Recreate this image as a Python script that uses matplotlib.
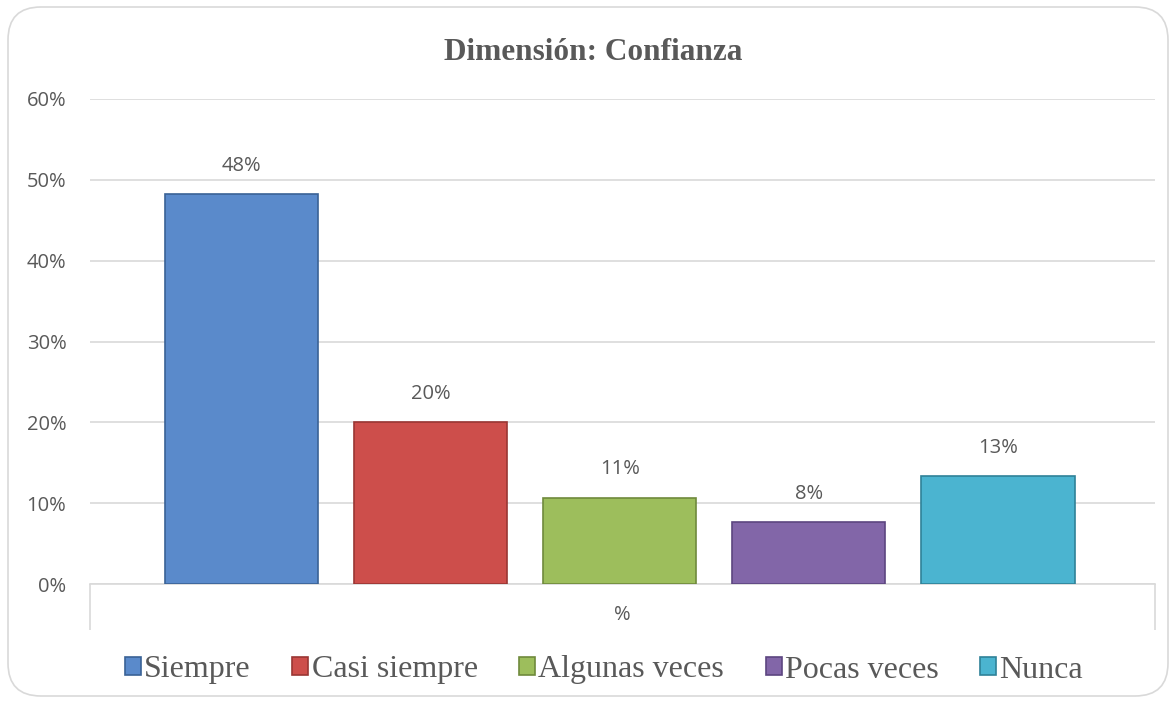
import matplotlib.pyplot as plt
from matplotlib.patches import FancyBboxPatch
from matplotlib.ticker import FuncFormatter

categories = ['Siempre', 'Casi siempre', 'Algunas veces', 'Pocas veces', 'Nunca']
values = [0.483, 0.20, 0.107, 0.077, 0.133]
labels = ['48%', '20%', '11%', '8%', '13%']
colors = ['#5A8ACB', '#CD4E4B', '#9DBE5C', '#8266A8', '#4BB4D0']
edges = ['#3A6296', '#9A3634', '#6F8A3C', '#5C4680', '#2F8298']
yticks = [0, 0.1, 0.2, 0.3, 0.4, 0.5, 0.6]

grey = '#595959'
line = '#D9D9D9'


def main():
  fig = plt.figure(figsize=(11.76, 7.04), dpi=100)
  fig.patches.append(FancyBboxPatch((8 / 1176, 8 / 704), 1160 / 1176, 689 / 704,
                                    boxstyle='round,pad=0,rounding_size=0.028',
                                    transform=fig.transFigure, fc='white', ec=line, lw=1.2,
                                    mutation_aspect=1176 / 704, zorder=-1))
  ax = fig.add_axes([90 / 1176, 1 - 584 / 704, (1155 - 90) / 1176, (584 - 99) / 704])
  ax.set_facecolor('none')

  x = list(range(len(categories)))
  bars = ax.bar(x, values, width=0.81, color=colors, edgecolor=edges, linewidth=1.2,
                zorder=3, label=categories)
  for xi, v, lab in zip(x, values, labels):
    ax.annotate(lab, (xi, v), xytext=(0, 13), textcoords='offset points',
                ha='center', va='bottom', fontsize=14.5, color=grey, family='Open Sans')

  ax.set_ylim(0, 0.6)
  ax.set_xlim(-0.80, 4.83)
  ax.set_yticks(yticks)
  ax.yaxis.set_major_formatter(FuncFormatter(lambda v, _: f'{v * 100:.0f}%'))
  ax.tick_params(axis='y', length=0, pad=17, labelsize=14.5, labelcolor=grey)
  for t in ax.get_yticklabels():
    t.set_family('Open Sans')
  ax.grid(axis='y', color=line, lw=1.2, zorder=0)

  ax.set_xticks([-0.80, 4.83])
  ax.set_xticklabels(['', ''])
  ax.tick_params(axis='x', length=33, width=1.2, color=line, direction='out')
  for s in ['top', 'right', 'left']:
    ax.spines[s].set_visible(False)
  ax.spines['bottom'].set_color(line)
  ax.spines['bottom'].set_linewidth(1.2)
  ax.text(0.5, -31 / 485, '%', transform=ax.transAxes, ha='center', va='center',
          fontsize=14.5, color=grey, family='Open Sans')

  fig.text(593 / 1176, 1 - 52 / 704, 'Dimensión: Confianza', ha='center', va='center',
           fontsize=22.5, fontweight='bold', color=grey, family='Liberation Serif')

  fig.legend(bars, categories, loc='center', bbox_to_anchor=(604 / 1176, 1 - 670 / 704),
             ncol=5, frameon=False, handlelength=0.5, handleheight=0.5, handletextpad=0.1,
             columnspacing=1.3, prop={'family': 'Liberation Serif', 'size': 23},
             labelcolor=grey)

  fig.savefig('out.png', dpi=100)


if __name__ == '__main__':
  main()
